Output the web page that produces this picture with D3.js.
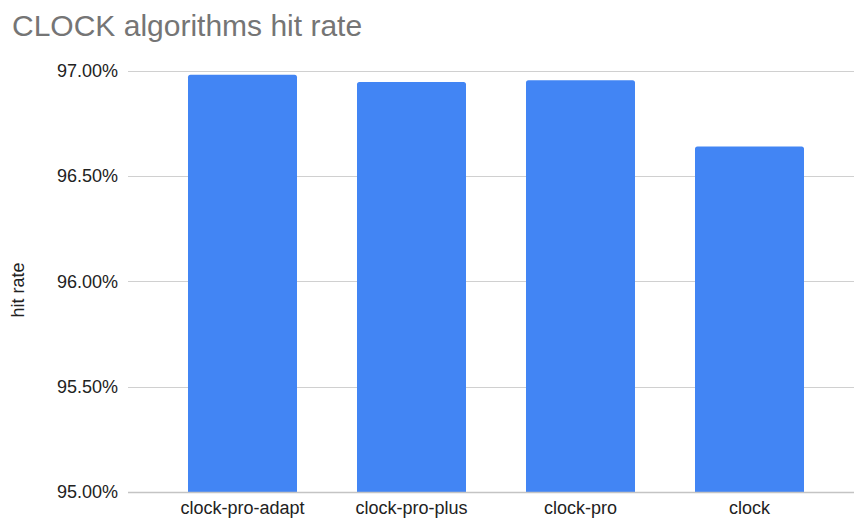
<!DOCTYPE html>
<html>
<head>
<meta charset="utf-8">
<script src="https://cdn.jsdelivr.net/npm/d3@7"></script>
<style>
  html, body { margin: 0; padding: 0; background: #fff; }
  svg { display: block; font-family: "Liberation Sans", Arial, sans-serif; }
</style>
</head>
<body>
<svg id="chart" width="855" height="519"></svg>
<script>
// Hit rate (%) per page-replacement algorithm
const categories = ["clock-pro-adapt", "clock-pro-plus", "clock-pro", "clock"];
const hitRate = [96.98, 96.946, 96.954, 96.639];
const yTicks = [95, 95.5, 96, 96.5, 97];
const chartTitle = "CLOCK algorithms hit rate";
const yTitle = "hit rate";

const svg = d3.select("#chart");

const x = d3.scaleBand()
  .domain(categories)
  .range([158, 834])
  .paddingInner(0.355)
  .paddingOuter(0.1775);

const y = d3.scaleLinear()
  .domain([95, 97])
  .range([492, 70.5]);

const gridLeft = 128, gridRight = 854;

// Horizontal gridlines
svg.append("g")
  .selectAll("line")
  .data(yTicks.filter(t => t !== 95))
  .join("line")
  .attr("x1", gridLeft)
  .attr("x2", gridRight)
  .attr("y1", d => Math.round(y(d)) + 0.5)
  .attr("y2", d => Math.round(y(d)) + 0.5)
  .attr("stroke", "#d0d0d0")
  .attr("stroke-width", 1);

// Y tick labels
const yAxis = d3.axisLeft(y)
  .tickValues(yTicks)
  .tickFormat(d => d3.format(".2f")(d) + "%")
  .tickSize(0)
  .tickPadding(0);

const gy = svg.append("g")
  .attr("transform", "translate(118,0)")
  .call(yAxis);
gy.select(".domain").remove();
gy.selectAll("text")
  .attr("font-size", 18)
  .attr("font-family", "Liberation Sans, Arial, sans-serif")
  .attr("fill", "#222");

// Bars with rounded top corners
const r = 2.5;
function barPath(d, i) {
  const x0 = x(categories[i]);
  const w = x.bandwidth();
  const y0 = y(d);
  const yb = y(95);
  return `M${x0},${yb}V${y0 + r}Q${x0},${y0} ${x0 + r},${y0}H${x0 + w - r}Q${x0 + w},${y0} ${x0 + w},${y0 + r}V${yb}Z`;
}
svg.append("g")
  .selectAll("path")
  .data(hitRate)
  .join("path")
  .attr("d", (d, i) => barPath(d, i))
  .attr("fill", "#4285f4");

// Baseline
svg.append("line")
  .attr("x1", gridLeft)
  .attr("x2", gridRight)
  .attr("y1", Math.round(y(95)) + 0.5)
  .attr("y2", Math.round(y(95)) + 0.5)
  .attr("stroke", "#c4c4c4")
  .attr("stroke-width", 1.5);

// X category labels
const xAxis = d3.axisBottom(x).tickSize(0).tickPadding(0);
const gx = svg.append("g")
  .attr("transform", `translate(0,${y(95)})`)
  .call(xAxis);
gx.select(".domain").remove();
gx.selectAll("text")
  .attr("font-size", 18)
  .attr("font-family", "Liberation Sans, Arial, sans-serif")
  .attr("fill", "#222")
  .attr("dy", null)
  .attr("y", 22);

// Title
svg.append("text")
  .attr("x", 12)
  .attr("y", 36)
  .attr("font-size", 30)
  .attr("fill", "#757575")
  .text(chartTitle);

// Y axis title
svg.append("text")
  .attr("transform", "translate(23.5,290) rotate(-90)")
  .attr("text-anchor", "middle")
  .attr("font-size", 18)
  .attr("fill", "#222")
  .text(yTitle);
</script>
</body>
</html>
